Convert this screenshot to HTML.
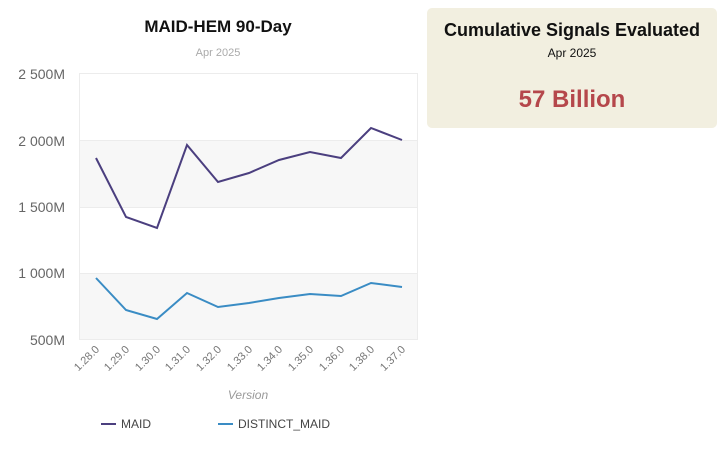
<!DOCTYPE html>
<html><head><meta charset="utf-8"><style>
body{margin:0;background:#fff;width:727px;height:449px;overflow:hidden;font-family:"Liberation Sans",sans-serif;}
</style></head><body>
<svg width="727" height="449" xmlns="http://www.w3.org/2000/svg" style="position:absolute;left:0;top:0">
<rect x="427" y="8" width="290" height="120" rx="5" fill="#f2efe0"/>
<text x="572" y="36" font-size="18" font-weight="bold" text-anchor="middle" fill="#111">Cumulative Signals Evaluated</text>
<text x="572" y="57" font-size="12" text-anchor="middle" fill="#111">Apr 2025</text>
<text x="572" y="107" font-size="24" font-weight="bold" text-anchor="middle" fill="#b5474b">57 Billion</text>

<text x="218" y="32" font-size="17" font-weight="bold" text-anchor="middle" fill="#111">MAID-HEM 90-Day</text>
<text x="218" y="56" font-size="11" text-anchor="middle" fill="#aaa">Apr 2025</text>

<rect x="79.5" y="140" width="338" height="67" fill="#f7f7f7"/>
<rect x="79.5" y="273" width="338" height="66" fill="#f7f7f7"/>
<rect x="79.5" y="73.5" width="338" height="266" fill="none" stroke="#ececec"/>
<g stroke="#ececec"><line x1="79" y1="140.5" x2="417" y2="140.5"/><line x1="79" y1="207.5" x2="417" y2="207.5"/><line x1="79" y1="273.5" x2="417" y2="273.5"/></g>
<g font-size="14" fill="#666" text-anchor="end">
<text x="65" y="79">2 500M</text><text x="65" y="146">2 000M</text><text x="65" y="212">1 500M</text><text x="65" y="278">1 000M</text><text x="65" y="345">500M</text>
</g>
<polyline fill="none" stroke="#4b3f7f" stroke-width="2" points="96,158 126,217 157,228 187,145 218,182 249,173 279,160 310,152 341,158 371,128 402,140"/>
<polyline fill="none" stroke="#3a8cc4" stroke-width="2" points="96,278 126,310 157,319 187,293 218,307 249,303 279,298 310,294 341,296 371,283 402,287"/>
<g font-size="11" fill="#777" text-anchor="end">
<text transform="translate(100,350) rotate(-45)">1.28.0</text>
<text transform="translate(130,350) rotate(-45)">1.29.0</text>
<text transform="translate(161,350) rotate(-45)">1.30.0</text>
<text transform="translate(191,350) rotate(-45)">1.31.0</text>
<text transform="translate(222,350) rotate(-45)">1.32.0</text>
<text transform="translate(253,350) rotate(-45)">1.33.0</text>
<text transform="translate(283,350) rotate(-45)">1.34.0</text>
<text transform="translate(314,350) rotate(-45)">1.35.0</text>
<text transform="translate(345,350) rotate(-45)">1.36.0</text>
<text transform="translate(375,350) rotate(-45)">1.38.0</text>
<text transform="translate(406,350) rotate(-45)">1.37.0</text>
</g>
<text x="248" y="399" font-size="12" font-style="italic" fill="#999" text-anchor="middle">Version</text>
<line x1="101" y1="424" x2="116" y2="424" stroke="#4b3f7f" stroke-width="2"/>
<text x="121" y="428" font-size="12" fill="#444">MAID</text>
<line x1="218" y1="424" x2="233" y2="424" stroke="#3a8cc4" stroke-width="2"/>
<text x="238" y="428" font-size="12" fill="#444">DISTINCT_MAID</text>
</svg>
</body></html>
